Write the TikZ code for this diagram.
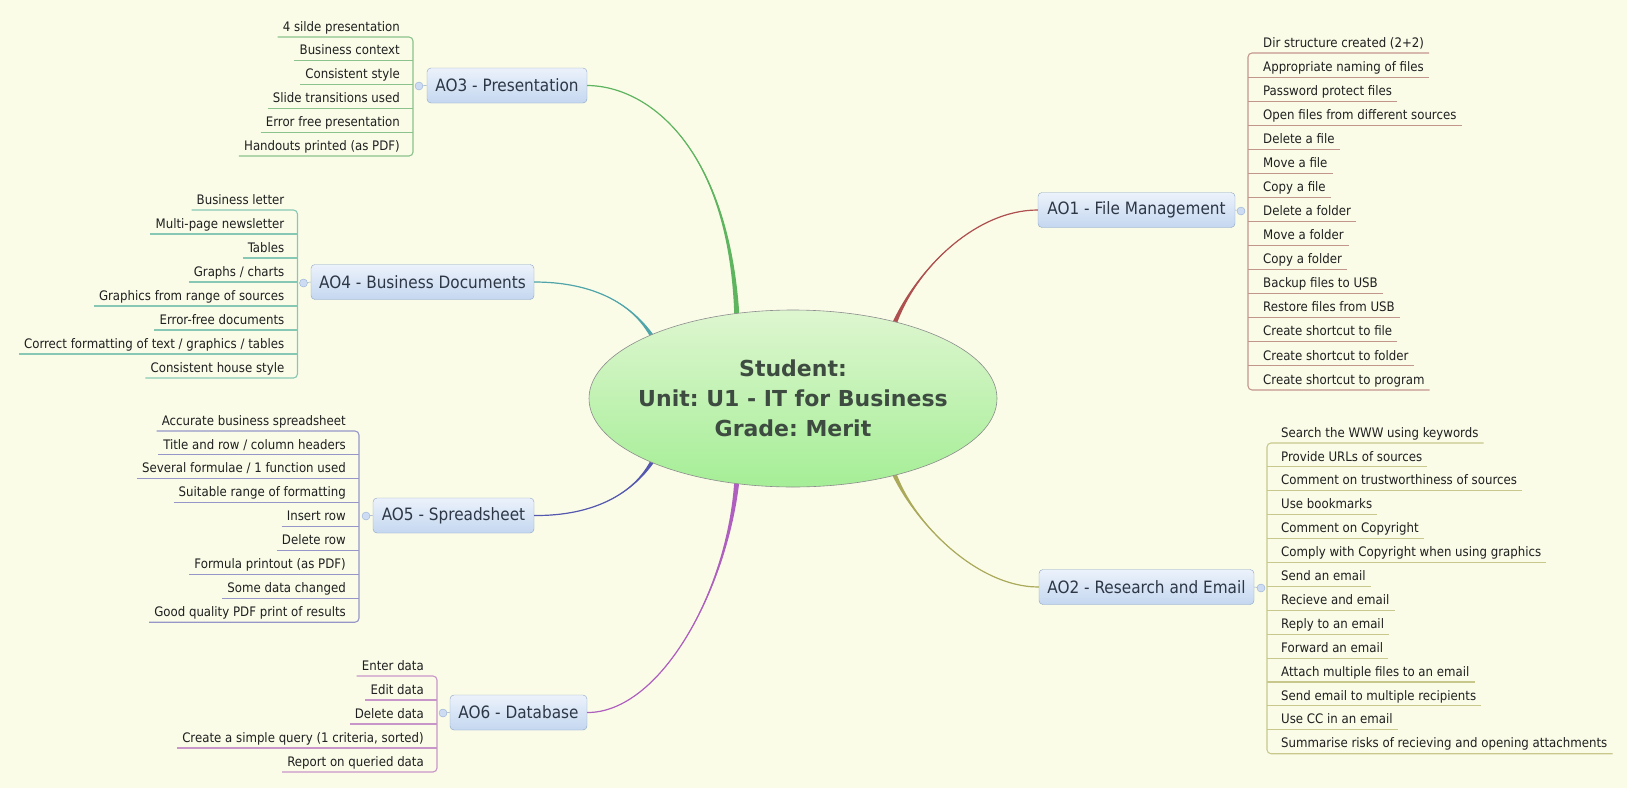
\documentclass[tikz,border=0pt]{standalone}
\usepackage{fontspec}
\setmainfont{DejaVu Sans Condensed}
\newfontfamily\titlefont{DejaVu Sans}
\usetikzlibrary{calc,shapes.geometric}
\frenchspacing
\definecolor{bg}{RGB}{250,252,232}
\definecolor{tTop}{RGB}{236,242,251}
\definecolor{tBot}{RGB}{196,215,240}
\definecolor{tBorder}{RGB}{140,165,195}
\definecolor{dotFill}{RGB}{205,220,242}
\definecolor{dotBorder}{RGB}{150,175,215}
\definecolor{cGreen}{RGB}{95,180,95}
\definecolor{cTeal}{RGB}{80,165,170}
\definecolor{cBlue}{RGB}{85,88,175}
\definecolor{cPurple}{RGB}{175,95,190}
\definecolor{cRed}{RGB}{175,80,80}
\definecolor{cOlive}{RGB}{170,170,90}
\definecolor{lGreen}{RGB}{140,195,140}
\definecolor{lTeal}{RGB}{135,200,180}
\definecolor{lBlue}{RGB}{150,150,200}
\definecolor{lPurple}{RGB}{200,150,200}
\definecolor{lRed}{RGB}{195,150,140}
\definecolor{lOlive}{RGB}{200,200,140}
\definecolor{ellTop}{RGB}{222,246,208}
\definecolor{ellBot}{RGB}{165,238,150}
\definecolor{titleText}{RGB}{62,75,65}
\definecolor{topicText}{RGB}{45,55,70}
\newcommand\branchdraw[5]{%
  \fill[#1] (#2) .. controls (#3) and (#4) .. ($(#5)+(2.6,0)$) -- ($(#5)+(-2.6,0)$) .. controls (#4) and (#3) .. (#2) -- cycle;
  \draw[#1,line width=1.2pt] (#2) .. controls (#3) and (#4) .. (#5);
}
\begin{document}
\begin{tikzpicture}[x=1pt,y=-1pt,
  leaf/.style={inner xsep=5pt,inner ysep=2.7pt,text height=10pt,text depth=3pt,font=\fontsize{13.1}{15}\selectfont,text=black!88},
  topic/.style={draw=tBorder,rounded corners=4pt,top color=tTop,bottom color=tBot,font=\fontsize{17}{20}\selectfont,text=topicText,minimum height=35pt,inner sep=0pt},
  knob/.style={circle,draw=dotBorder,fill=dotFill,minimum size=8pt,inner sep=0pt},
  twig/.style={line width=1.1pt}]
\fill[bg] (0,0) rectangle (1627,788);
\useasboundingbox (0,0) rectangle (1627,788);

% topics
\node[topic,minimum width=160pt] (ao3) at (507,85.5) {AO3 - Presentation};
\node[topic,minimum width=223pt] (ao4) at (422.5,282) {AO4 - Business Documents};
\node[topic,minimum width=161pt] (ao5) at (453.5,515.5) {AO5 - Spreadsheet};
\node[topic,minimum width=137pt] (ao6) at (518.5,712.5) {AO6 - Database};
\node[topic,minimum width=197pt] (ao1) at (1136.5,210) {AO1 - File Management};
\node[topic,minimum width=215pt] (ao2) at (1146.5,587) {AO2 - Research and Email};

% ends on the central topic
\coordinate (e3) at (737,319);
\coordinate (e4) at (655,341);
\coordinate (e5) at (655,457);
\coordinate (e6) at (737,479);
\coordinate (e1) at (893,327);
\coordinate (e2) at (893,471);

\branchdraw{cGreen}{ao3.east}{650,86}{730,150}{e3}
\branchdraw{cTeal}{ao4.east}{588,282}{632,300}{e4}
\branchdraw{cBlue}{ao5.east}{592,516}{634,495}{e5}
\branchdraw{cPurple}{ao6.east}{660,713}{728,590}{e6}
\branchdraw{cRed}{ao1.west}{975,210}{915,270}{e1}
\branchdraw{cOlive}{ao2.west}{975,587}{912,520}{e2}

\node[ellipse,draw=black!45,line width=0.6pt,top color=ellTop,bottom color=ellBot,minimum width=408pt,minimum height=177pt,inner sep=0pt] (hub) at (793,398.5) {};
\node[align=center,text=titleText,font=\titlefont\bfseries\fontsize{22}{30}\selectfont] (title) at (hub.center) {Student:\\Unit: U1 - IT for Business\\Grade: Merit};

% AO3 children
\coordinate (b3) at (413,0);
\foreach \t [count=\i] in {4 silde presentation, Business context, Consistent style, Slide transitions used, Error free presentation, Handouts printed (as PDF)}
  \node[leaf,anchor=south east] (p\i) at (405,{37+23.8*(\i-1)}) {\t};
\foreach \i in {2,...,5} \draw[twig,lGreen] (p\i.south west) -- (b3 |- p\i.south);
\draw[twig,lGreen,rounded corners=4pt] (p1.south west) -- (b3 |- p1.south) -- (b3 |- p6.south) -- (p6.south west);
\node[knob] (k3) at (419,86) {};
\draw[tBorder] (k3) -- (ao3.west);

% AO4 children
\coordinate (b4) at (297.5,0);
\foreach \t [count=\i] in {Business letter, Multi-page newsletter, Tables, Graphs / charts, Graphics from range of sources, Error-free documents, Correct formatting of text / graphics / tables, Consistent house style}
  \node[leaf,anchor=south east] (q\i) at (289.5,{210+24*(\i-1)}) {\t};
\foreach \i in {2,...,7} \draw[twig,lTeal] (q\i.south west) -- (b4 |- q\i.south);
\draw[twig,lTeal,rounded corners=4pt] (q1.south west) -- (b4 |- q1.south) -- (b4 |- q8.south) -- (q8.south west);
\node[knob] (k4) at (303.5,283) {};
\draw[tBorder] (k4) -- (ao4.west);

% AO5 children
\coordinate (b5) at (359,0);
\foreach \t [count=\i] in {Accurate business spreadsheet, Title and row / column headers, Several formulae / 1 function used, Suitable range of formatting, Insert row, Delete row, Formula printout (as PDF), Some data changed, Good quality PDF print of results}
  \node[leaf,anchor=south east] (r\i) at (351,{431+23.9*(\i-1)}) {\t};
\foreach \i in {2,...,8} \draw[twig,lBlue] (r\i.south west) -- (b5 |- r\i.south);
\draw[twig,lBlue,rounded corners=4pt] (r1.south west) -- (b5 |- r1.south) -- (b5 |- r9.south) -- (r9.south west);
\node[knob] (k5) at (366,516) {};
\draw[tBorder] (k5) -- (ao5.west);

% AO6 children
\coordinate (b6) at (437,0);
\foreach \t [count=\i] in {Enter data, Edit data, Delete data, {Create a simple query (1 criteria, sorted)}, Report on queried data}
  \node[leaf,anchor=south east] (s\i) at (429,{676+24*(\i-1)}) {\t};
\foreach \i in {2,...,4} \draw[twig,lPurple] (s\i.south west) -- (b6 |- s\i.south);
\draw[twig,lPurple,rounded corners=4pt] (s1.south west) -- (b6 |- s1.south) -- (b6 |- s5.south) -- (s5.south west);
\node[knob] (k6) at (443,713) {};
\draw[tBorder] (k6) -- (ao6.west);

% AO1 children
\coordinate (b1) at (1248,0);
\foreach \t [count=\i] in {Dir structure created (2+2), Appropriate naming of files, Password protect files, Open files from different sources, Delete a file, Move a file, Copy a file, Delete a folder, Move a folder, Copy a folder, Backup files to USB, Restore files from USB, Create shortcut to file, Create shortcut to folder, Create shortcut to program}
  \node[leaf,anchor=south west] (m\i) at (1258,{53+24.07*(\i-1)}) {\t};
\foreach \i in {2,...,14} \draw[twig,lRed] (m\i.south east) -- (b1 |- m\i.south);
\draw[twig,lRed,rounded corners=4pt] (m1.south east) -- (b1 |- m1.south) -- (b1 |- m15.south) -- (m15.south east);
\node[knob] (k1) at (1241,211) {};
\draw[tBorder] (k1) -- (ao1.east);

% AO2 children
\coordinate (b2) at (1267,0);
\foreach \t [count=\i] in {Search the WWW using keywords, Provide URLs of sources, Comment on trustworthiness of sources, Use bookmarks, Comment on Copyright, Comply with Copyright when using graphics, Send an email, Recieve and email, Reply to an email, Forward an email, Attach multiple files to an email, Send email to multiple recipients, Use CC in an email, Summarise risks of recieving and opening attachments}
  \node[leaf,anchor=south west] (n\i) at (1276,{443+23.9*(\i-1)}) {\t};
\foreach \i in {2,...,13} \draw[twig,lOlive] (n\i.south east) -- (b2 |- n\i.south);
\draw[twig,lOlive,rounded corners=4pt] (n1.south east) -- (b2 |- n1.south) -- (b2 |- n14.south) -- (n14.south east);
\node[knob] (k2) at (1261,588) {};
\draw[tBorder] (k2) -- (ao2.east);
\end{tikzpicture}
\end{document}
